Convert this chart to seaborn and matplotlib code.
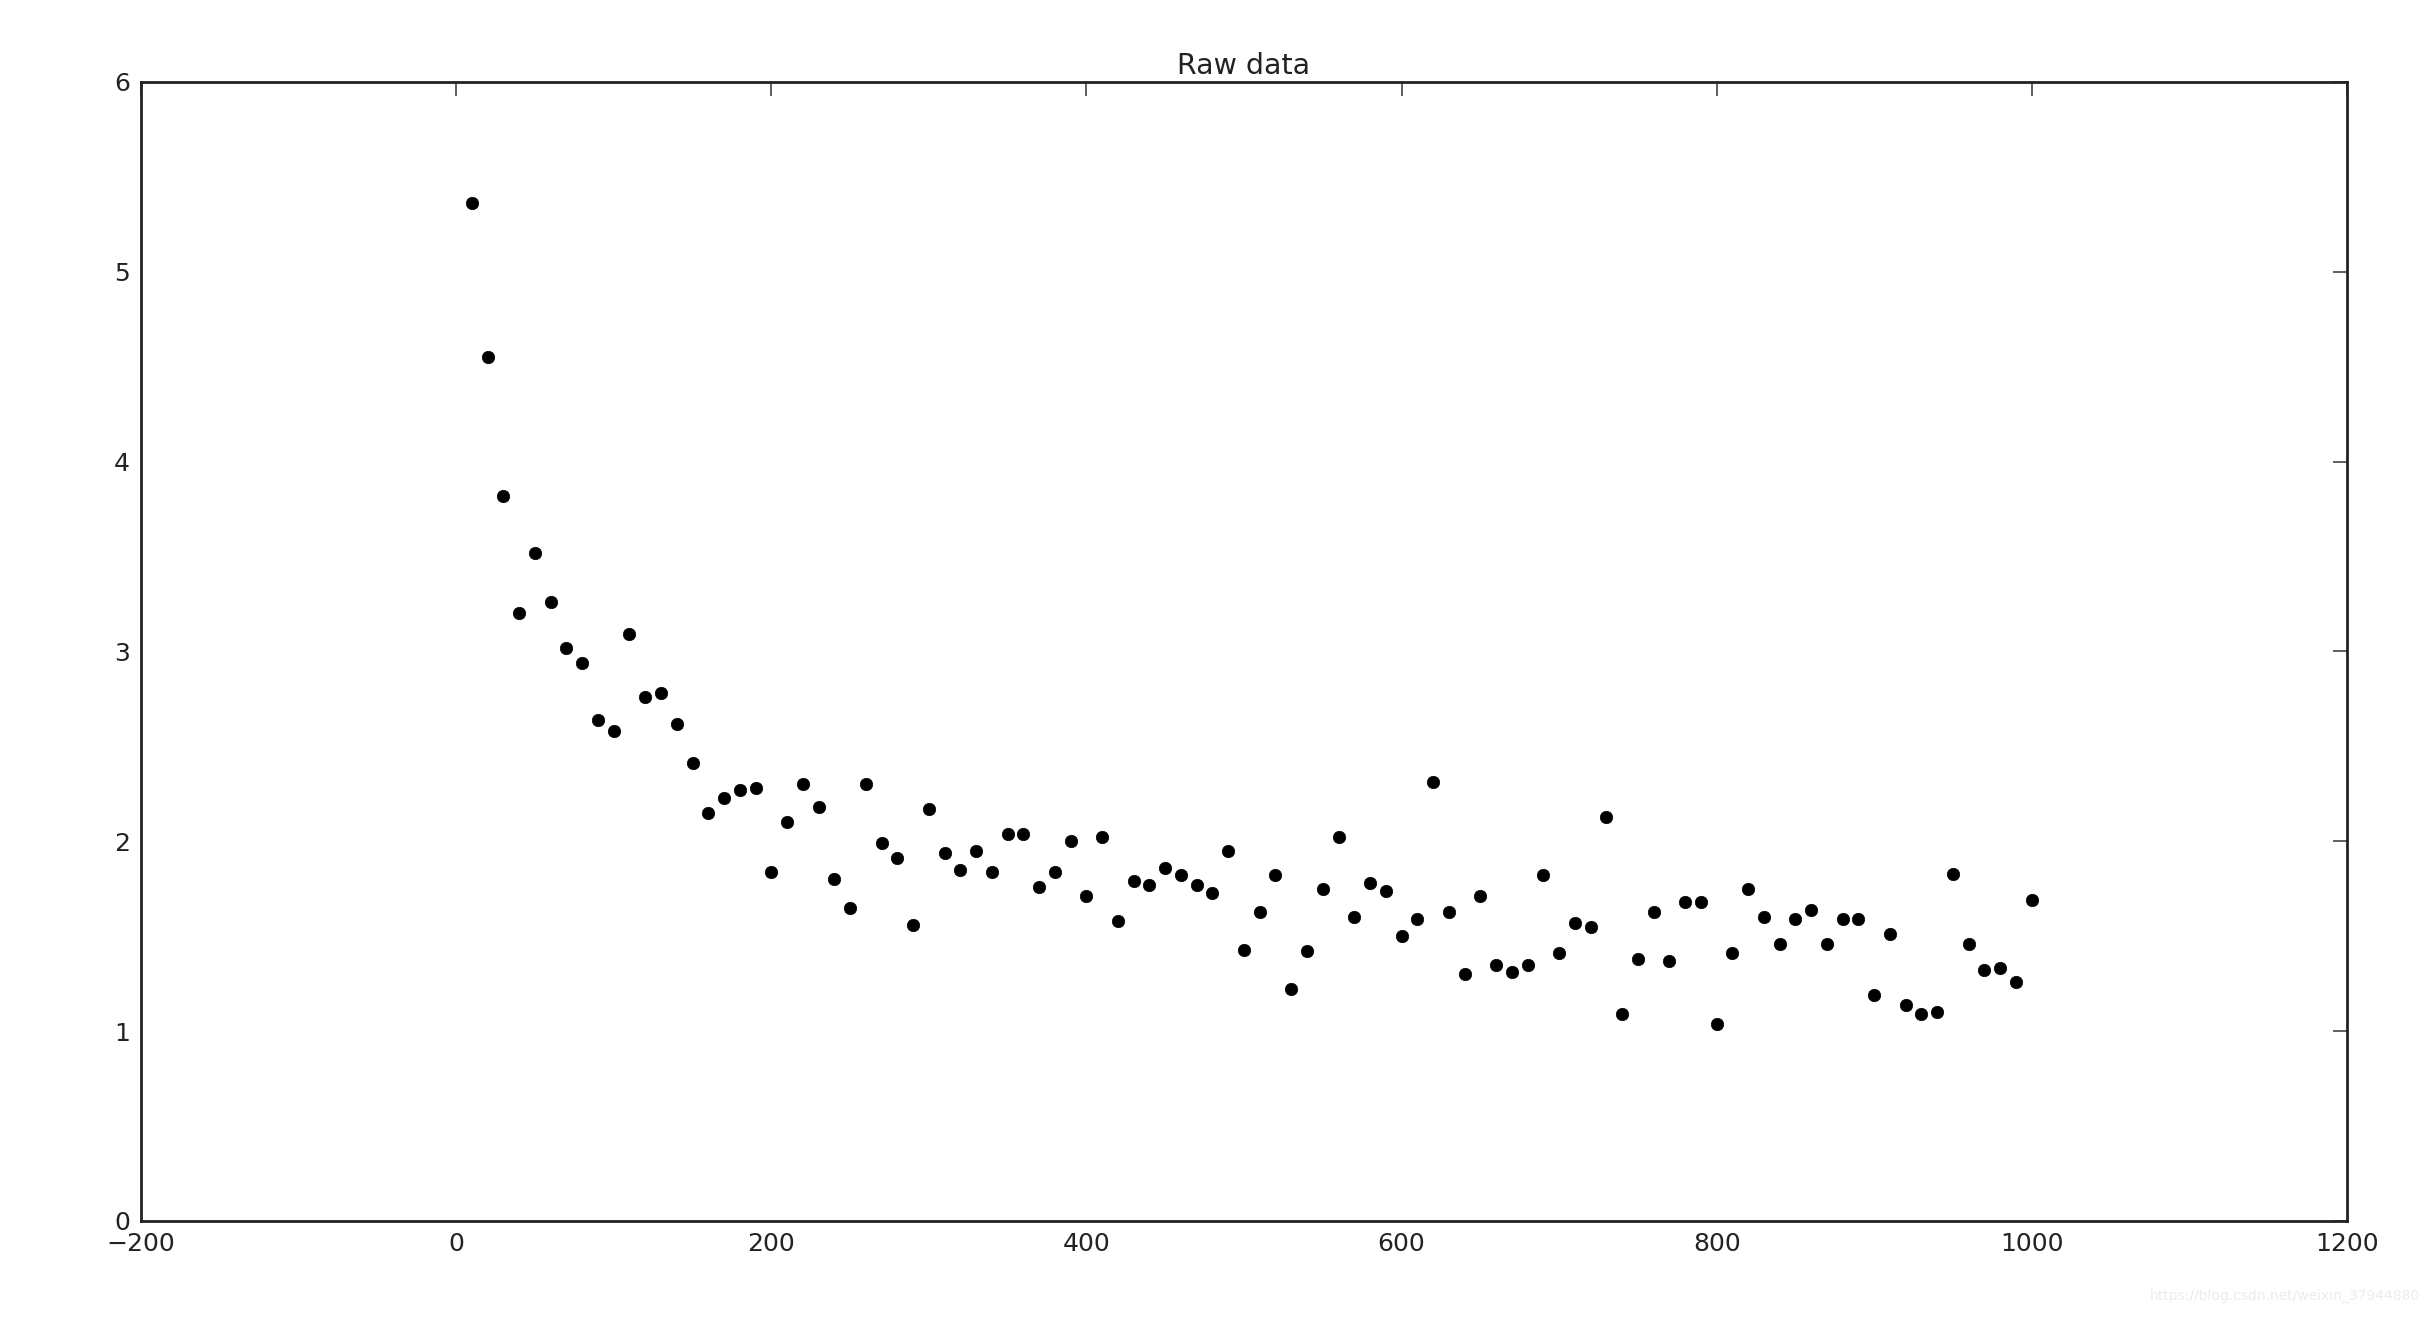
import matplotlib
matplotlib.use("Agg")
import matplotlib.pyplot as plt
import seaborn as sns
import pandas as pd

x_vals = list(range(10, 1001, 10))
y_vals = [
    5.36, 4.55, 3.82, 3.20, 3.52, 3.26, 3.02, 2.94, 2.64, 2.58,
    3.09, 2.76, 2.78, 2.62, 2.41, 2.15, 2.23, 2.27, 2.28, 1.84,
    2.10, 2.30, 2.18, 1.80, 1.65, 2.30, 1.99, 1.91, 1.56, 2.17,
    1.94, 1.85, 1.95, 1.84, 2.04, 2.04, 1.76, 1.84, 2.00, 1.71,
    2.02, 1.58, 1.79, 1.77, 1.86, 1.82, 1.77, 1.73, 1.95, 1.43,
    1.63, 1.82, 1.22, 1.42, 1.75, 2.02, 1.60, 1.78, 1.74, 1.50,
    1.59, 2.31, 1.63, 1.30, 1.71, 1.35, 1.31, 1.35, 1.82, 1.41,
    1.57, 1.55, 2.13, 1.09, 1.38, 1.63, 1.37, 1.68, 1.68, 1.04,
    1.41, 1.75, 1.60, 1.46, 1.59, 1.64, 1.46, 1.59, 1.59, 1.19,
    1.51, 1.14, 1.09, 1.10, 1.83, 1.46, 1.32, 1.33, 1.26, 1.69,
]
x_ticks = [-200, 0, 200, 400, 600, 800, 1000, 1200]
y_ticks = [0, 1, 2, 3, 4, 5, 6]

df = pd.DataFrame({"x": x_vals, "y": y_vals})

sns.set_style("white")
plt.rcParams['font.family'] = ['DejaVu Sans']
plt.rcParams['xtick.direction'] = 'in'
plt.rcParams['ytick.direction'] = 'in'
plt.rcParams['xtick.top'] = True
plt.rcParams['ytick.right'] = True

fig = plt.figure(figsize=(24.32, 13.2), dpi=100)
ax = fig.add_axes([0.058, 0.075, 0.907, 0.863])

sns.scatterplot(data=df, x="x", y="y", color="black", s=80,
                edgecolor="black", linewidth=0.5, ax=ax)

ax.set_xlim(-200, 1200)
ax.set_ylim(0, 6)
ax.set_xticks(x_ticks)
ax.set_yticks(y_ticks)
ax.set_xticklabels([str(t).replace('-', '\u2212') for t in x_ticks])
ax.set_xlabel('')
ax.set_ylabel('')
ax.set_title('Raw data', fontsize=20.5, color='#222222', pad=6)

ax.tick_params(axis='both', labelsize=18, labelcolor='#222222',
               length=10, width=1.2, color='#444444', pad=8)
for side in ax.spines.values():
    side.set_linewidth(2)
    side.set_color('#222222')

fig.text(0.995, 0.013, 'https://blog.csdn.net/weixin_37944880',
         ha='right', va='bottom', fontsize=10, color='#ececec')

fig.savefig('out.png', dpi=100)
